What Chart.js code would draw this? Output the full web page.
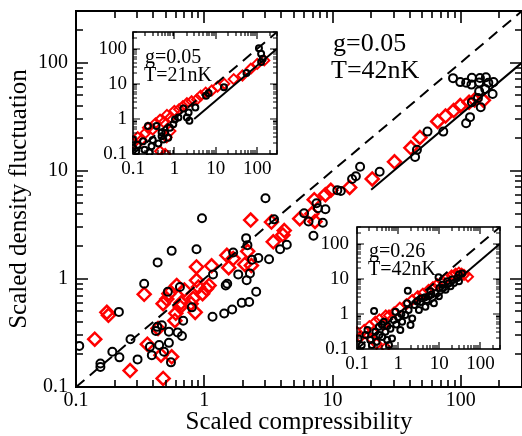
<!DOCTYPE html>
<html><head><meta charset="utf-8">
<script src="https://cdn.jsdelivr.net/npm/chart.js@4.4.0/dist/chart.umd.min.js"></script>
<style>
html,body{margin:0;padding:0;background:#fff;}
#wrap{position:relative;width:522px;height:436px;overflow:hidden;background:#fff;}
canvas{position:absolute;}
</style></head><body>
<div id="wrap">
<canvas id="main" width="522" height="436" style="left:0px;top:0px"></canvas>
<canvas id="in1" width="197" height="160" style="left:88px;top:24px"></canvas>
<canvas id="in2" width="196" height="160" style="left:312px;top:219px"></canvas>
</div>
<script>
const FONT = 'Liberation Serif';
const tickVals = [0.1, 1, 10, 100];
const tickLabels = ['0.1', '1', '10', '100'];
const axisMin = 0.1, axisMax = 300;

const xTitle = 'Scaled compressibility';
const yTitle = 'Scaled density fluctuation';
const mainLabel = ['g=0.05', 'T=42nK'];
const inset1Label = ['g=0.05', 'T=21nK'];
const inset2Label = ['g=0.26', 'T=42nK'];

// reference lines
const dashX = [0.1, 300], dashY = [0.1, 300];
const solidMainX = [20, 300], solidMainY = [6.67, 100];
const solidIn1X = [3, 300], solidIn1Y = [1, 100];
const solidIn2X = [5, 300], solidIn2Y = [1.67, 100];

// main panel: black circles
const mainCircX = [0.106,0.155,0.155,0.192,0.218,0.216,0.266,0.302,0.34,0.377,0.39,0.42,0.43,0.433,0.445,0.467,0.485,0.52,0.53,0.53,0.55,0.557,0.62,0.67,0.685,0.646,0.8,0.87,0.96,1.16,1.17,1.43,1.47,1.51,1.65,1.68,1.84,1.96,2.12,2.17,2.24,2.14,2.27,2.36,2.54,2.64,3.0,3.2,3.5,3.9,4.4,6.0,6.5,7.1,7.5,7.7,8.4,8.8,10.9,11.6,14.2,15.2,16.4,23.3,44,45.5,55,73,87,99,110,121,122,139,141,157,164,180,139,177,155,136,122,143,118,110];
const mainCircY = [0.24,0.165,0.153,0.212,0.188,0.495,0.276,0.18,0.9,0.235,0.197,0.33,0.36,1.42,0.244,0.373,0.212,0.76,0.325,0.256,0.169,1.815,0.32,0.296,0.41,0.84,0.545,1.88,3.63,0.447,1.1,0.478,0.87,0.9,0.52,1.75,1.1,0.6,2.38,2.05,0.61,0.97,1.12,1.5,0.76,1.56,5.56,1.52,3.55,1.88,2.07,4.05,3.4,2.5,5.0,4.5,3.3,4.4,6.6,6.5,8.4,8.9,10.9,9.8,13.4,15.6,23,23,71.8,66,65,62.6,72.4,65.4,72,73.3,65,66,54.3,51.3,57,47,43,38.7,31.3,27.5];
// main panel: red diamonds
const mainDiaX = [0.14,0.174,0.179,0.264,0.34,0.36,0.436,0.46,0.478,0.478,0.51,0.53,0.557,0.59,0.6,0.61,0.65,0.66,0.7,0.79,0.82,0.85,0.87,0.87,0.9,0.97,1.04,1.09,1.14,1.5,1.55,1.68,2.07,2.18,2.33,2.3,3.34,3.45,4.1,4.2,5.55,6.9,7.2,7.3,8.8,9.7,13.6,20.4,30.4,40.8,48,66,76,88,99,116,128,150];
const mainDiaY = [0.277,0.49,0.46,0.142,0.72,0.249,0.348,0.197,0.12,0.59,0.65,0.73,0.19,0.41,0.48,0.87,0.55,0.6,0.79,0.59,0.66,0.49,1.29,0.97,0.84,0.73,0.81,0.87,1.32,1.65,1.27,1.54,1.36,1.8,1.33,3.5,3.35,2.2,2.55,2.8,3.6,4.0,5.4,3.4,6.0,6.6,7.0,8.4,12.1,16.3,20.3,28.6,32,36,40,43,45,44.8];

// inset 1 (g=0.05, T=21nK)
const in1CircX = [0.1,0.1,0.13,0.175,0.23,0.37,0.19,0.28,0.41,0.49,0.49,0.54,0.71,0.78,0.94,1.03,1.25,1.65,2.2,2.3,2.0,3.2,5.8,6.7,15.7,55,124,136,124,110,0.12,0.25,0.6,0.3];
const in1CircY = [0.26,0.15,0.185,0.23,0.63,0.63,0.133,0.166,0.2,0.32,0.42,0.26,0.29,0.56,0.7,0.97,1.09,1.98,1.52,0.88,1.09,2.1,4.6,5.4,8.0,20.4,72,52,42,104,0.12,0.11,0.4,0.25];
const in1DiaX = [0.1,0.13,0.16,0.2,0.23,0.3,0.35,0.45,0.55,0.66,0.8,1.0,1.3,1.6,2.0,2.6,3.5,4.3,5.7,8,11,16,27,44,70,100,148,0.45,0.6,0.65,0.8];
const in1DiaY = [0.2,0.3,0.25,0.4,0.56,0.5,0.75,0.95,0.8,1.3,1.1,1.7,1.9,2.3,2.8,3.2,3.6,4.6,5.6,6.5,8.3,10,13.6,17.3,27,37,46.5,0.12,0.1,0.3,0.45];

// inset 2 (g=0.26, T=42nK)
const in2CircX = [0.13,0.16,0.21,0.26,0.28,0.34,0.41,0.45,0.49,0.54,0.71,0.65,0.78,0.86,1.13,1.25,1.5,1.65,1.8,2.2,2.0,1.72,2.9,3.2,3.8,4.6,5.6,6.1,7.4,8.1,9.8,10.1,11.8,14.2,15.6,18.8,20.6,22.8,27.4,30.2,9.6,30,36,0.11,0.18,0.23,0.3,0.35,0.4,0.55,0.6,0.9,1.0,1.2,2.5,3.5,4.5,5,6.5,12,17];
const in2CircY = [0.128,0.25,0.18,1.22,0.31,0.43,0.22,0.6,0.31,0.18,0.2,0.38,0.67,1.16,0.35,0.6,0.93,2.0,1.3,0.74,0.48,4.6,2.27,1.3,2.8,1.6,3.2,4.4,2.0,3.9,3.2,5.5,6.8,4.9,8.5,6.1,9.5,7.6,10.6,8.5,11.1,13.2,14.1,0.2,0.35,0.13,0.16,0.25,0.5,0.45,0.13,0.5,0.8,1.0,1.8,2.2,3.0,2.5,3.6,5.5,7.5];
const in2DiaX = [0.1,0.12,0.15,0.2,0.25,0.28,0.35,0.45,0.5,0.6,0.8,1.1,1.6,2.2,3,4,5.5,7,9,12,15,20,25,30,35,40,50,0.3,0.5,0.22];
const in2DiaY = [0.3,0.22,0.35,0.45,0.3,0.6,0.7,0.5,0.9,0.9,1.1,1.5,1.9,2.5,3.2,3.8,4.8,5.8,7,8.5,10.5,12.5,14,15,14,13,11.5,0.14,0.11,0.2];

const pts = (xs, ys) => xs.map((x, i) => ({x: x, y: ys[i]}));

function logTicks(min, max) {
  const out = [];
  for (let e = -1; e <= 2; e++) {
    for (let m = 1; m <= 9; m++) {
      const v = m * Math.pow(10, e);
      if (v >= min * 0.999 && v <= max * 1.001) out.push({v: v, major: m === 1});
    }
  }
  return out;
}

const framePlugin = {
  id: 'frame',
  beforeDraw(chart, args, o) {
    if (o.fill) {
      const a = chart.chartArea, ctx = chart.ctx;
      ctx.save(); ctx.fillStyle = '#fff';
      ctx.fillRect(a.left, a.top, a.right - a.left, a.bottom - a.top);
      ctx.restore();
    }
  },
  afterDraw(chart, args, o) {
    const ctx = chart.ctx, a = chart.chartArea;
    const xs = chart.scales.x, ys = chart.scales.y;
    ctx.save();
    ctx.strokeStyle = '#000';
    ctx.lineWidth = o.tickWidth;
    ctx.beginPath();
    for (const t of logTicks(xs.min, xs.max)) {
      const p = Math.round(xs.getPixelForValue(t.v));
      const L = t.major ? o.major : o.minor;
      ctx.moveTo(p, a.bottom); ctx.lineTo(p, a.bottom - L);
      ctx.moveTo(p, a.top); ctx.lineTo(p, a.top + L);
    }
    for (const t of logTicks(ys.min, ys.max)) {
      const p = Math.round(ys.getPixelForValue(t.v));
      const L = t.major ? o.major : o.minor;
      ctx.moveTo(a.left, p); ctx.lineTo(a.left + L, p);
      ctx.moveTo(a.right, p); ctx.lineTo(a.right - L, p);
    }
    ctx.stroke();
    ctx.lineWidth = o.frameWidth;
    ctx.strokeRect(a.left, a.top, a.right - a.left, a.bottom - a.top);
    ctx.fillStyle = '#000';
    ctx.font = o.textSize + 'px "' + FONT + '"';
    ctx.textAlign = 'left';
    ctx.textBaseline = 'alphabetic';
    for (const t of o.texts) ctx.fillText(t.text, a.left + t.dx, a.top + t.dy);
    ctx.restore();
  }
};

function axis(kind, cfg) {
  const isX = kind === 'x';
  const ax = {
    type: 'logarithmic', min: axisMin, max: axisMax,
    position: isX ? 'bottom' : 'left',
    grid: {display: false, drawTicks: false},
    border: {display: false},
    afterBuildTicks: s => { s.ticks = tickVals.map(v => ({value: v})); },
    ticks: {
      autoSkip: false, maxRotation: 0, minRotation: 0,
      color: '#000',
      font: {family: FONT, size: cfg.tickSize},
      padding: isX ? cfg.xPad : cfg.yPad,
      callback: (v, i) => tickLabels[i]
    },
    afterFit: s => {
      if (isX) { s.height = cfg.xH; s.paddingLeft = 0; s.paddingRight = 0; }
      else { s.width = cfg.yW; s.paddingTop = 0; s.paddingBottom = 0; }
    }
  };
  if (cfg.titles) {
    ax.title = {
      display: true, text: isX ? xTitle : yTitle, color: '#000',
      font: {family: FONT, size: 25},
      padding: isX ? {top: 0, bottom: -1} : {top: 4, bottom: 0}
    };
  }
  return ax;
}

function makeChart(id, cfg) {
  const ds = [
    {data: pts(cfg.dashX, cfg.dashY), showLine: true, borderColor: '#000', borderWidth: 2, borderDash: [11, 7], pointRadius: 0, order: 0, clip: 0},
    {data: pts(cfg.solidX, cfg.solidY), showLine: true, borderColor: '#000', borderWidth: 2, pointRadius: 0, order: 0, clip: 0},
    {data: pts(cfg.circX, cfg.circY), pointStyle: 'circle', pointRadius: cfg.cr, borderColor: '#000', borderWidth: 2, backgroundColor: 'rgba(0,0,0,0)', order: 1, clip: 1},
    {data: pts(cfg.diaX, cfg.diaY), pointStyle: 'rectRot', pointRadius: cfg.dr, borderColor: '#ff0000', borderWidth: cfg.dw, backgroundColor: 'rgba(0,0,0,0)', order: 2, clip: 1}
  ];
  return new Chart(document.getElementById(id), {
    type: 'scatter',
    data: {datasets: ds},
    options: {
      responsive: false, animation: false, events: [],
      layout: {padding: cfg.pad, autoPadding: false},
      plugins: {
        legend: {display: false}, tooltip: {enabled: false},
        frame: {fill: cfg.fill, major: cfg.major, minor: cfg.minor, tickWidth: cfg.tickWidth, frameWidth: cfg.frameWidth, textSize: cfg.textSize, texts: cfg.texts}
      },
      scales: {x: axis('x', cfg), y: axis('y', cfg)}
    },
    plugins: [framePlugin]
  });
}

makeChart('main', {
  pad: {left: 0, top: 11, right: -1, bottom: 0},
  xH: 49, yW: 76, xPad: 2, yPad: 8, tickSize: 20, titles: true,
  dashX: dashX, dashY: dashY, solidX: solidMainX, solidY: solidMainY,
  circX: mainCircX, circY: mainCircY, diaX: mainDiaX, diaY: mainDiaY,
  cr: 4, dr: 6.5, dw: 2.5,
  fill: false, major: 12, minor: 7, tickWidth: 1.6, frameWidth: 2,
  textSize: 26,
  texts: [{text: mainLabel[0], dx: 257, dy: 40}, {text: mainLabel[1], dx: 255, dy: 67}]
});

makeChart('in1', {
  pad: {left: 0, top: 8, right: 8, bottom: 0},
  xH: 30, yW: 45, xPad: 4, yPad: 6, tickSize: 19, titles: false,
  dashX: dashX, dashY: dashY, solidX: solidIn1X, solidY: solidIn1Y,
  circX: in1CircX, circY: in1CircY, diaX: in1DiaX, diaY: in1DiaY,
  cr: 3, dr: 5, dw: 2,
  fill: true, major: 7, minor: 4, tickWidth: 1.2, frameWidth: 1.6,
  textSize: 20,
  texts: [{text: inset1Label[0], dx: 12, dy: 31}, {text: inset1Label[1], dx: 11, dy: 49}]
});

makeChart('in2', {
  pad: {left: 0, top: 8, right: 8, bottom: 0},
  xH: 30, yW: 45, xPad: 4, yPad: 8, tickSize: 19, titles: false,
  dashX: dashX, dashY: dashY, solidX: solidIn2X, solidY: solidIn2Y,
  circX: in2CircX, circY: in2CircY, diaX: in2DiaX, diaY: in2DiaY,
  cr: 3, dr: 5, dw: 2,
  fill: true, major: 7, minor: 4, tickWidth: 1.2, frameWidth: 1.6,
  textSize: 20,
  texts: [{text: inset2Label[0], dx: 12, dy: 30}, {text: inset2Label[1], dx: 11, dy: 48}]
});
</script>
</body></html>
